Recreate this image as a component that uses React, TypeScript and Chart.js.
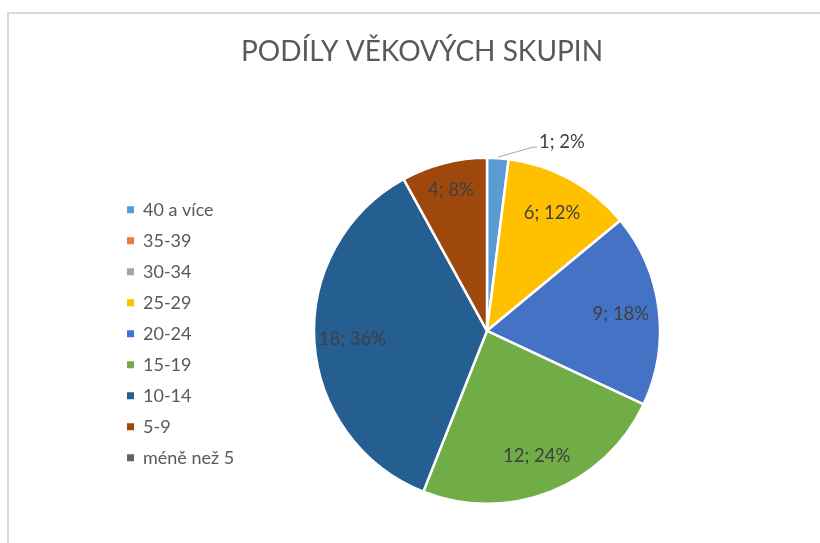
import { useEffect, useRef } from "react";
import { Chart, registerables } from "chart.js";

Chart.register(...registerables);

const TITLE = "PODÍLY VĚKOVÝCH SKUPIN";
const categories = ["40 a více", "35-39", "30-34", "25-29", "20-24", "15-19", "10-14", "5-9", "méně než 5"];
const counts = [1, 0, 0, 6, 9, 12, 18, 4, 0];
const colors = ["#5B9BD5", "#ED7D31", "#A5A5A5", "#FFC000", "#4472C4", "#70AD47", "#255E91", "#9E480E", "#636363"];

const FONT = "Lato, 'Noto Sans', sans-serif";
const LEGEND_W = 130;
const LEGEND_SHIFT = 3;

const labelPlugin = {
  id: "sliceLabels",
  afterDatasetsDraw(chart: any) {
    const ctx = chart.ctx;
    const meta = chart.getDatasetMeta(0);
    const data = chart.data.datasets[0].data as number[];
    const total = data.reduce((a, b) => a + b, 0);
    ctx.save();
    ctx.font = `18.5px ${FONT}`;
    ctx.fillStyle = "#404040";
    meta.data.forEach((arc: any, i: number) => {
      const v = data[i];
      if (!v) return;
      const { x, y, startAngle, endAngle, outerRadius } = arc.getProps(
        ["x", "y", "startAngle", "endAngle", "outerRadius"],
        true
      );
      const mid = (startAngle + endAngle) / 2;
      const pct = v / total;
      const text = `${v}; ${Math.round(pct * 100)}%`;
      if (pct < 0.05) {
        const sx = x + Math.cos(mid) * (outerRadius + 1);
        const sy = y + Math.sin(mid) * (outerRadius + 1);
        const ex = sx + 35;
        const ey = sy - 10;
        ctx.strokeStyle = "#A6A6A6";
        ctx.lineWidth = 1;
        ctx.beginPath();
        ctx.moveTo(sx, sy);
        ctx.lineTo(ex, ey);
        ctx.lineTo(ex + 4, ey);
        ctx.stroke();
        ctx.textAlign = "left";
        ctx.textBaseline = "middle";
        ctx.fillText(text, ex + 6, ey - 5);
      } else {
        const f = pct < 0.1 ? 0.84 : 0.78;
        ctx.textAlign = "center";
        ctx.textBaseline = "middle";
        ctx.fillText(text, x + Math.cos(mid) * outerRadius * f, y + Math.sin(mid) * outerRadius * f);
      }
    });
    ctx.restore();
  },
};

const layoutPlugin = {
  id: "layoutTweak",
  beforeLayout(chart: any) {
    const lg = chart.legend;
    if (lg && !lg.__patched) {
      const orig = lg.fit.bind(lg);
      lg.fit = function () {
        orig();
        this.width = LEGEND_W;
      };
      lg.__patched = true;
    }
  },
  afterLayout(chart: any) {
    const lg = chart.legend;
    if (lg) {
      lg.top += LEGEND_SHIFT;
      lg.bottom += LEGEND_SHIFT;
    }
  },
};

export default function App() {
  const ref = useRef<HTMLCanvasElement | null>(null);
  useEffect(() => {
    if (!ref.current) return;
    Chart.defaults.font.family = FONT;
    const chart = new Chart(ref.current, {
      type: "pie",
      data: {
        labels: categories,
        datasets: [
          {
            data: counts,
            backgroundColor: colors,
            borderColor: "#FFFFFF",
            borderWidth: 2.5,
          },
        ],
      },
      options: {
        responsive: false,
        animation: false,
        radius: 173,
        layout: { padding: { left: 114, right: 90, top: 0, bottom: 11 } },
        plugins: {
          title: {
            display: true,
            text: TITLE,
            color: "#595959",
            font: { family: FONT, size: 28, weight: "normal" },
            padding: { top: 35, bottom: 61 },
          },
          legend: {
            position: "left",
            fullSize: false,
            labels: {
              boxWidth: 7,
              boxHeight: 7,
              padding: 13,
              color: "#595959",
              font: { family: FONT, size: 18 },
              generateLabels: (c: any) => {
                const base = (Chart as any).overrides.pie.plugins.legend.labels.generateLabels(c);
                return base.map((it: any) => ({ ...it, lineWidth: 0, strokeStyle: it.fillStyle }));
              },
            },
          },
          tooltip: { enabled: false },
        },
      } as any,
      plugins: [labelPlugin, layoutPlugin],
    });
    return () => chart.destroy();
  }, []);

  return (
    <div style={{ position: "fixed", left: 0, top: 0, width: 820, height: 543, background: "#fff", overflow: "hidden" }}>
      <div
        style={{
          position: "absolute",
          left: 7,
          top: 12,
          width: 900,
          height: 700,
          border: "2px solid #D9D9D9",
          boxSizing: "border-box",
        }}
      />
      <canvas ref={ref} width={820} height={543} style={{ position: "absolute", left: 0, top: 0 }} />
    </div>
  );
}
